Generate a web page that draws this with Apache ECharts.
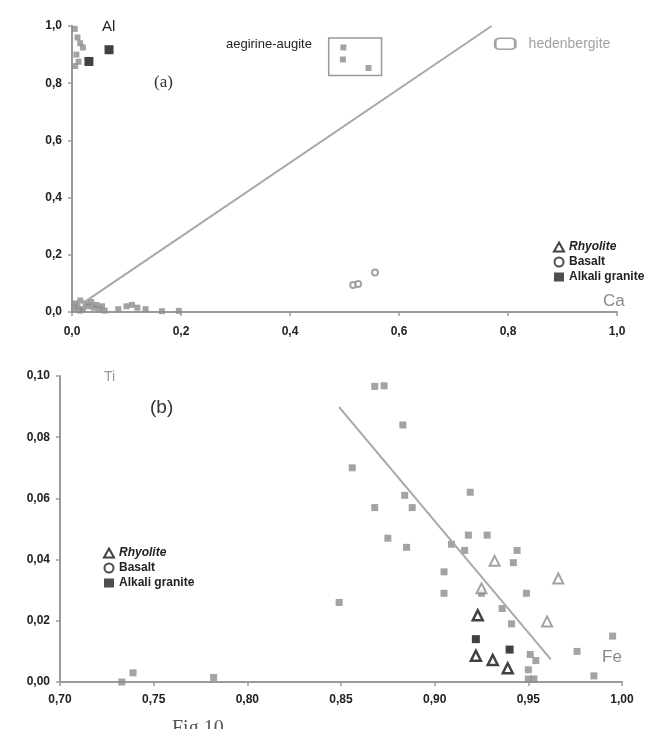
<!DOCTYPE html>
<html>
<head>
<meta charset="utf-8">
<script src="https://cdn.jsdelivr.net/npm/echarts@6/dist/echarts.min.js"></script>
<style>
  html, body { margin: 0; padding: 0; background: #fff; }
  #chart { width: 669px; height: 729px; }
</style>
</head>
<body>
<div id="chart"></div>
<script>
// (a) Al vs Ca  -- [Ca, Al]
var otherA = [
  [0.005, 0.99], [0.01, 0.96], [0.015, 0.94], [0.02, 0.925], [0.008, 0.90],
  [0.012, 0.875], [0.006, 0.86],
  [0.005, 0.03], [0.01, 0.02], [0.015, 0.04], [0.02, 0.01], [0.025, 0.03],
  [0.03, 0.02], [0.035, 0.035], [0.04, 0.015], [0.045, 0.025], [0.05, 0.01],
  [0.055, 0.02], [0.06, 0.005], [0.005, 0.01], [0.015, 0.005],
  [0.085, 0.01], [0.10, 0.02], [0.11, 0.025], [0.12, 0.015], [0.135, 0.01],
  [0.165, 0.003], [0.196, 0.004],
  [0.498, 0.925], [0.497, 0.883], [0.544, 0.853]
];
var graniteA = [[0.031, 0.876], [0.068, 0.917]];
var basaltA = [[0.516, 0.094], [0.525, 0.098], [0.556, 0.138]];
var trendA = [[0.02, 0.031], [0.77, 1.0]];
var aegirineBox = [[0.471, 0.827], [0.568, 0.958]];
var hedenbergite = [[0.795, 0.938]];

// (b) Ti vs Fe  -- [Fe, Ti]
var otherB = [
  [0.868, 0.0966], [0.873, 0.0968], [0.883, 0.084], [0.856, 0.070], [0.868, 0.057],
  [0.884, 0.061], [0.888, 0.057], [0.875, 0.047], [0.885, 0.044], [0.919, 0.062],
  [0.849, 0.026], [0.909, 0.045], [0.916, 0.043], [0.918, 0.048], [0.928, 0.048],
  [0.905, 0.036], [0.905, 0.029], [0.944, 0.043], [0.942, 0.039], [0.925, 0.029],
  [0.949, 0.029], [0.936, 0.024], [0.941, 0.019], [0.976, 0.010], [0.995, 0.015],
  [0.951, 0.009], [0.954, 0.007], [0.950, 0.004], [0.953, 0.001], [0.950, 0.001],
  [0.985, 0.002], [0.739, 0.003], [0.733, 0.000], [0.782, 0.0015]
];
var otherRhyoliteB = [[0.932, 0.0396], [0.925, 0.0306], [0.960, 0.0198], [0.966, 0.0338]];
var rhyoliteB = [[0.923, 0.0218], [0.922, 0.0086], [0.931, 0.0072], [0.939, 0.0045]];
var graniteB = [[0.922, 0.0140], [0.940, 0.0106]];
var trendB = [[0.849, 0.0898], [0.962, 0.0074]];

function comma(digits) {
  return function (v) { return v.toFixed(digits).replace('.', ','); };
}
function zeroGray(v) { return v === 0 ? '#999' : '#222'; }

var gray = '#8c8c8c';
var axisLine = { lineStyle: { color: '#9a9a9a', width: 2 } };
var tick = { show: true, length: 4, lineStyle: { color: '#9a9a9a', width: 1.5 } };
var lab = { fontFamily: 'Liberation Sans', fontWeight: 'bold', fontSize: 12, color: zeroGray };
var legendText = { fontFamily: 'Liberation Sans', fontWeight: 'bold', fontSize: 12, color: '#222' };
var legendItems = [
  { name: 'Rhyolite', textStyle: { fontStyle: 'italic' } },
  { name: 'Basalt', itemStyle: { color: '#fff', borderColor: '#222', borderWidth: 2 } },
  { name: 'Alkali granite', itemStyle: { color: '#222' } }
];

var chart = echarts.init(document.getElementById('chart'));
chart.setOption({
  animation: false,
  grid: [
    { left: 72, top: 26, width: 545, height: 286 },
    { left: 60, top: 376, width: 562, height: 306 }
  ],
  xAxis: [
    {
      gridIndex: 0, type: 'value', min: 0, max: 1, interval: 0.2,
      splitLine: { show: false }, axisLine: axisLine, axisTick: tick,
      axisLabel: Object.assign({ formatter: comma(1), margin: 14 }, lab),
      name: 'Ca', nameGap: -14,
      nameTextStyle: { color: '#888', fontSize: 17, fontFamily: 'Liberation Sans', verticalAlign: 'bottom', padding: [0, 0, 2, 0] }
    },
    {
      gridIndex: 1, type: 'value', min: 0.70, max: 1.00, interval: 0.05,
      splitLine: { show: false }, axisLine: axisLine, axisTick: tick,
      axisLabel: Object.assign({ formatter: comma(2), margin: 12 }, lab),
      name: 'Fe', nameGap: -20,
      nameTextStyle: { color: '#888', fontSize: 17, fontFamily: 'Liberation Sans', verticalAlign: 'bottom', padding: [0, 0, 16, 0] }
    }
  ],
  yAxis: [
    {
      gridIndex: 0, type: 'value', min: 0, max: 1, interval: 0.2,
      splitLine: { show: false }, axisLine: axisLine, axisTick: tick,
      axisLabel: Object.assign({ formatter: comma(1), margin: 10 }, lab),
      name: 'Al', nameGap: -8,
      nameTextStyle: { color: '#222', fontSize: 15, fontFamily: 'Liberation Sans', align: 'left', padding: [0, 0, 0, 30] }
    },
    {
      gridIndex: 1, type: 'value', min: 0, max: 0.10, interval: 0.02,
      splitLine: { show: false }, axisLine: axisLine, axisTick: tick,
      axisLabel: Object.assign({ formatter: comma(2), margin: 10 }, lab),
      name: 'Ti', nameGap: -8,
      nameTextStyle: { color: '#999', fontSize: 14, fontFamily: 'Liberation Sans', align: 'left', padding: [0, 0, 0, 44] }
    }
  ],
  legend: [
    {
      left: 548, top: 236, orient: 'vertical', itemGap: 3, itemWidth: 10, itemHeight: 9,
      textStyle: legendText, data: legendItems
    },
    {
      left: 98, top: 542, orient: 'vertical', itemGap: 3, itemWidth: 10, itemHeight: 9,
      textStyle: legendText, data: legendItems
    }
  ],
  graphic: [
    { type: 'text', left: 154, top: 74, style: { text: '(a)', font: '17px "Liberation Serif"', fill: '#333' } },
    { type: 'text', left: 150, top: 398, style: { text: '(b)', font: '19px "Liberation Sans"', fill: '#333' } },
    { type: 'text', left: 172, top: 719, style: { text: 'Fig.10', font: '20px "Liberation Serif"', fill: '#555' } }
  ],
  series: [
    {
      name: 'trendA', type: 'line', xAxisIndex: 0, yAxisIndex: 0, data: trendA,
      symbol: 'none', lineStyle: { color: '#a8a8a8', width: 2 }, silent: true
    },
    {
      name: 'otherA', type: 'scatter', xAxisIndex: 0, yAxisIndex: 0, data: otherA,
      symbol: 'rect', symbolSize: 6, itemStyle: { color: gray },
      markArea: {
        silent: true,
        itemStyle: { color: 'rgba(0,0,0,0)', borderColor: '#999', borderWidth: 1.5 },
        label: { show: true, position: 'left', distance: 16, color: '#222', fontSize: 13, fontFamily: 'Liberation Sans', offset: [0, -12] },
        data: [[{ name: 'aegirine-augite', coord: aegirineBox[0] }, { coord: aegirineBox[1] }]]
      }
    },
    {
      name: 'hedenbergite', type: 'scatter', xAxisIndex: 0, yAxisIndex: 0, data: hedenbergite,
      symbol: 'roundRect', symbolSize: [20, 11],
      itemStyle: { color: '#fff', borderColor: '#888', borderWidth: 2 },
      label: { show: true, position: 'right', distance: 12, formatter: 'hedenbergite', color: '#888', fontSize: 14, fontFamily: 'Liberation Sans' }
    },
    {
      name: 'Basalt', type: 'scatter', xAxisIndex: 0, yAxisIndex: 0, data: basaltA,
      symbol: 'circle', symbolSize: 6,
      itemStyle: { color: '#fff', borderColor: gray, borderWidth: 2 }
    },
    {
      name: 'Alkali granite', type: 'scatter', xAxisIndex: 0, yAxisIndex: 0, data: graniteA,
      symbol: 'rect', symbolSize: 9, itemStyle: { color: '#111' }
    },
    {
      name: 'trendB', type: 'line', xAxisIndex: 1, yAxisIndex: 1, data: trendB,
      symbol: 'none', lineStyle: { color: '#a8a8a8', width: 2 }, silent: true
    },
    {
      name: 'otherB', type: 'scatter', xAxisIndex: 1, yAxisIndex: 1, data: otherB,
      symbol: 'rect', symbolSize: 7, itemStyle: { color: gray }
    },
    {
      name: 'otherRhyoliteB', type: 'scatter', xAxisIndex: 1, yAxisIndex: 1, data: otherRhyoliteB,
      symbol: 'triangle', symbolSize: 10,
      itemStyle: { color: '#fff', borderColor: gray, borderWidth: 2 }
    },
    {
      name: 'Rhyolite', type: 'scatter', xAxisIndex: 1, yAxisIndex: 1, data: rhyoliteB,
      symbol: 'triangle', symbolSize: 10,
      itemStyle: { color: '#fff', borderColor: '#111', borderWidth: 2.5 }
    },
    {
      name: 'Alkali granite', type: 'scatter', xAxisIndex: 1, yAxisIndex: 1, data: graniteB,
      symbol: 'rect', symbolSize: 8, itemStyle: { color: '#111' }
    }
  ]
});
</script>
</body>
</html>
